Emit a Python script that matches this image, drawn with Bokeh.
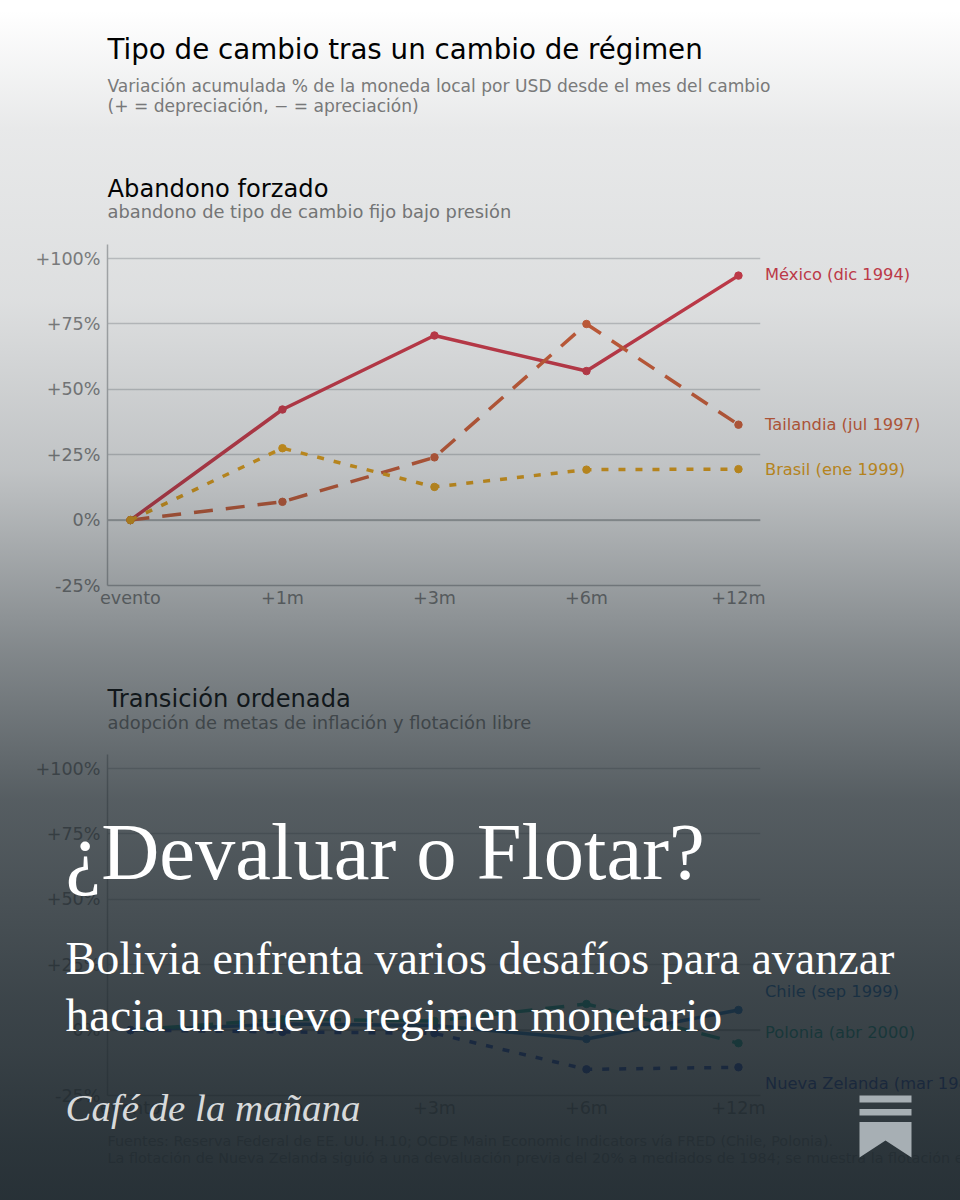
from bokeh.plotting import figure
from bokeh.layouts import column
from bokeh.models import Div, FixedTicker
from bokeh.core.properties import value
from bokeh.embed import file_html
from bokeh.resources import INLINE

# ---------- data ----------
periods = ["evento", "+1m", "+3m", "+6m", "+12m"]
y_ticks = [-25, 0, 25, 50, 75, 100]
y_tick_labels = ["-25%", "0%", "+25%", "+50%", "+75%", "+100%"]

mexico = [0, 42.3, 70.6, 57.0, 93.5]
tailandia = [0, 7.0, 24.0, 75.0, 36.5]
brasil = [0, 27.5, 12.7, 19.3, 19.5]

chile = [0, 2.3, 1.8, -3.4, 7.7]
polonia = [0, 4.2, 3.5, 10.0, -5.0]
nueva_zelanda = [0, -0.7, -1.2, -15.0, -14.2]

title = "Tipo de cambio tras un cambio de régimen"
subtitle_1 = "Variación acumulada % de la moneda local por USD desde el mes del cambio"
subtitle_2 = "(+ = depreciación, − = apreciación)"
panel_a = "Abandono forzado"
panel_a_sub = "abandono de tipo de cambio fijo bajo presión"
panel_b = "Transición ordenada"
panel_b_sub = "adopción de metas de inflación y flotación libre"
source_1 = "Fuentes: Reserva Federal de EE. UU. H.10; OCDE Main Economic Indicators vía FRED (Chile, Polonia)."
source_2 = "La flotación de Nueva Zelanda siguió a una devaluación previa del 20% a mediados de 1984; se muestra la flotación en sí."
cover_title = "¿Devaluar o Flotar?"
cover_line_1 = "Bolivia enfrenta varios desafíos para avanzar"
cover_line_2 = "hacia un nuevo regimen monetario"
cover_brand = "Café de la mañana"

RED, RUST, GOLD = "#d63c4c", "#d9623a", "#f0a818"
BLUE, TEAL, NAVY = "#0a6ec8", "#00aa96", "#0a3cc8"
SANS = "DejaVu Sans"
SERIF = "Liberation Serif"


def abs_css(left, top):
    return [f":host{{position:absolute!important;left:{left}px;top:{top}px;margin:0!important}}"]


def page_figure():
    f = figure(width=960, height=1200, x_range=(0, 960), y_range=(1200, 0),
               x_axis_location=None, y_axis_location=None, min_border=0,
               toolbar_location=None, output_backend="svg", tools="", frame_align=False,
               stylesheets=abs_css(0, 0))
    f.grid.visible = False
    f.outline_line_color = None
    f.border_fill_alpha = 0
    f.background_fill_alpha = 0
    return f


def put(f, x, y, text, size, color, font=SANS, style="normal", baseline="alphabetic"):
    # The SVG text is drawn about a third of the font size below the asked baseline.
    if baseline == "alphabetic":
        y = y - 0.33 * size
    f.text(x=[x], y=[y], text=[text], text_font=value(font), text_font_size=value(f"{size}px"),
           text_font_style=value(style), text_color=color, text_baseline=baseline)


def chart(top, series):
    f = figure(width=960, height=406, x_range=(-0.151, 4.145), y_range=(-25, 105.4),
               min_border_left=107, min_border_right=200, min_border_top=20, min_border_bottom=45,
               toolbar_location=None, output_backend="svg", tools="", frame_align=False,
               stylesheets=abs_css(0, top))
    f.outline_line_color = None
    f.border_fill_alpha = 0
    f.background_fill_alpha = 0
    f.xgrid.visible = False
    f.ygrid.ticker = FixedTicker(ticks=y_ticks)
    f.ygrid.grid_line_color = "#cfd1d3"
    f.ygrid.grid_line_width = 1.5
    f.xaxis.ticker = FixedTicker(ticks=list(range(len(periods))))
    f.xaxis.major_label_overrides = {i: s for i, s in enumerate(periods)}
    f.yaxis.ticker = FixedTicker(ticks=y_ticks)
    f.yaxis.major_label_overrides = dict(zip(y_ticks, y_tick_labels))
    for ax in (f.xaxis[0], f.yaxis[0]):
        ax.major_tick_line_color = None
        ax.minor_tick_line_color = None
        ax.major_tick_out = 0
        ax.major_tick_in = 0
        ax.axis_line_color = "#b4b6b8"
        ax.axis_line_width = 1.5
        ax.major_label_text_font = SANS
        ax.major_label_text_font_size = "17.6px"
        ax.major_label_text_color = "#888888"
    f.yaxis[0].major_label_standoff = 7
    f.xaxis[0].major_label_standoff = 2
    f.line([-0.151, 4.145], [0, 0], line_color="#aeb0b2", line_width=1.5)
    x = list(range(len(periods)))
    for vals, color, dash in series:
        f.line(x, vals, line_color=color, line_width=3.5, line_dash=dash)
        f.scatter(x, vals, size=7.5, fill_color=color, line_color=color)
    return f


# ---------- bottom layer: white page and chart texts ----------
base = page_figure()
base.background_fill_color = "#ffffff"
base.background_fill_alpha = 1
put(base, 107, 58, title, 27.7, "#000000")
put(base, 107, 91.5, subtitle_1, 17.1, "#808080")
put(base, 107, 111, subtitle_2, 17.1, "#808080")
put(base, 107, 196.5, panel_a, 24.2, "#000000")
put(base, 107, 217, panel_a_sub, 17.85, "#808080")
put(base, 107, 706.5, panel_b, 24.2, "#000000")
put(base, 107, 727.5, panel_b_sub, 17.85, "#808080")
put(base, 764.5, 274, "México (dic 1994)", 16.3, RED, baseline="middle")
put(base, 764.5, 424, "Tailandia (jul 1997)", 16.3, RUST, baseline="middle")
put(base, 764.5, 468.5, "Brasil (ene 1999)", 16.3, GOLD, baseline="middle")
put(base, 764.5, 990.5, "Chile (sep 1999)", 16.3, BLUE, baseline="middle")
put(base, 764.5, 1032, "Polonia (abr 2000)", 16.3, TEAL, baseline="middle")
put(base, 764.5, 1083, "Nueva Zelanda (mar 1985)", 16.3, NAVY, baseline="middle")
put(base, 107, 1145, source_1, 14.4, "#a0a0a0")
put(base, 107, 1162, source_2, 14.4, "#a0a0a0")

# ---------- the two panels ----------
chart_a = chart(224, [(mexico, RED, "solid"), (tailandia, RUST, "19 13"), (brasil, GOLD, "7 10")])
chart_b = chart(734, [(chile, BLUE, "solid"), (polonia, TEAL, "19 13"), (nueva_zelanda, NAVY, "7 10")])

# ---------- gradient veil ----------
stops = [(0, 0), (10, 0), (130, .10), (300, .15), (470, .28), (500, .32), (650, .55), (800, .745),
         (1000, .86), (1050, .88), (1145, .93), (1200, .95)]
css_stops = ",".join(f"rgba(28,38,44,{a}) {y}px" for y, a in stops)
veil = Div(text="", width=960, height=1200,
           stylesheets=[f":host{{position:absolute!important;left:0;top:0;margin:0!important;"
                        f"width:960px;height:1200px;background:linear-gradient(to bottom,{css_stops})}}"])

# ---------- cover layer ----------
cover = page_figure()
put(cover, 65, 878, cover_title, 80.5, "#ffffff", font=SERIF)
put(cover, 65, 973, cover_line_1, 46, "#ffffff", font=SERIF)
put(cover, 65, 1030, cover_line_2, 47.3, "#ffffff", font=SERIF)
put(cover, 65, 1120, cover_brand, 38.9, "#d8dadb", font=SERIF, style="italic")
ICON = "#a7afb4"
cover.quad(left=[859, 859], right=[911, 911], top=[1095, 1108.5], bottom=[1102, 1115],
           fill_color=ICON, line_color=None)
cover.patch([859, 911, 911, 885, 859], [1121.5, 1121.5, 1157, 1140, 1157], fill_color=ICON, line_color=None)

page = column(base, chart_a, chart_b, veil, cover, width=960, height=1200,
              stylesheets=abs_css(0, 0))
open("out.html", "w").write(file_html(page, INLINE))
